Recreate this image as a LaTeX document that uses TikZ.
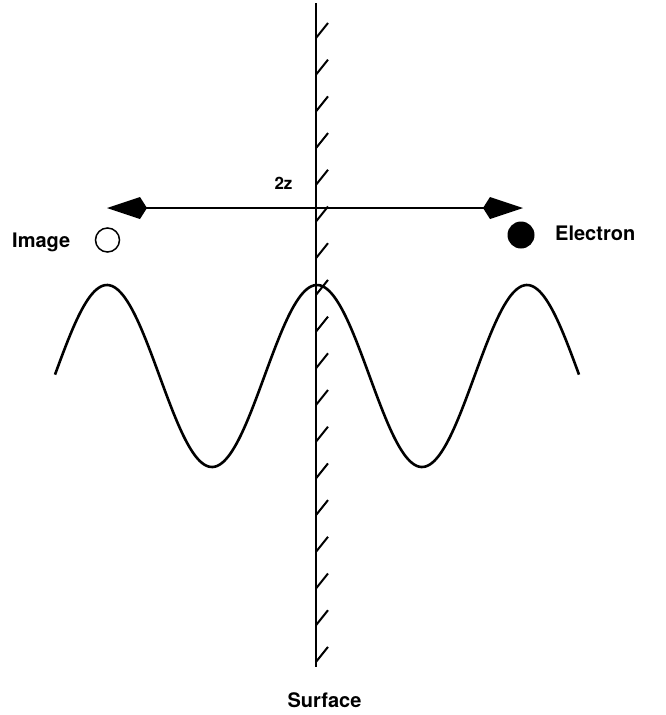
\documentclass[tikz,border=0pt]{standalone}
\usepackage{fontspec}
\setmainfont{TeX Gyre Heros}
\usetikzlibrary{arrows.meta}
\begin{document}
\begin{tikzpicture}[x=1pt,y=-1pt,
  lbl/.style={font=\fontsize{20}{22}\selectfont\bfseries, inner sep=0pt},
  thick line/.style={line width=2.6pt},
  hatch/.style={line width=2pt},
  kitehead/.style={-{Kite[length=40pt,width=22pt,inset=7pt]}}
]
\useasboundingbox (0,0) rectangle (665,715);
% surface
\coordinate (stop) at (316,3);
\coordinate (sbot) at (316,667);
\draw[thick line] (stop) -- (sbot);
\foreach \i in {0,...,17}{
  \draw[hatch] (316,{38+36.7*\i}) -- ++(12,-15);
}
% wave
\draw[line width=2.6pt] plot[domain=55:579, samples=240, smooth] (\x, {376-91*cos(1.7142857*(\x-317))});
% arrow
\coordinate (mid) at (316,208);
\coordinate (lt) at (107,208);
\coordinate (rt) at (523,208);
\draw[line width=2.4pt, kitehead] (mid) -- (lt);
\draw[line width=2.4pt, kitehead] (mid) -- (rt);
% labels
\node[lbl, font=\fontsize{17}{20}\selectfont\bfseries] (twoz) at (283.5,183) {2z};
\node[draw, circle, line width=1.5pt, minimum size=24pt, inner sep=0pt] (img) at (107.5,240) {};
\node[lbl, anchor=base west] (imglbl) at (12,247) {Image};
\node[fill=black, circle, minimum size=27pt, inner sep=0pt] (el) at (521,235) {};
\node[lbl, anchor=base west] (ellbl) at (555,240) {Electron};
\node[lbl, anchor=base] (surf) at (324.5,707) {Surface};
\end{tikzpicture}
\end{document}
